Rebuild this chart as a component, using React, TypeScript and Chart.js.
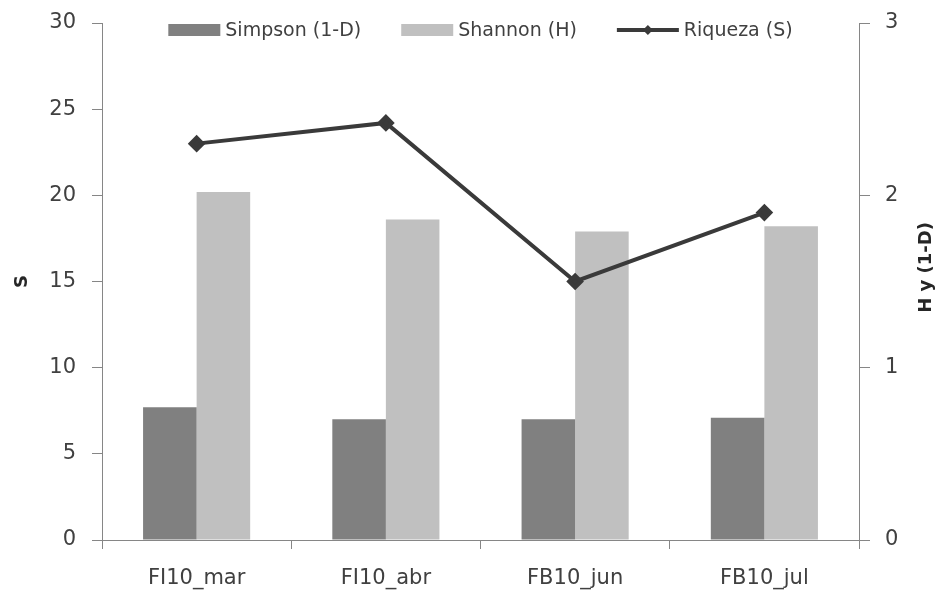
import React, { useEffect, useRef } from "react";
import { Chart, registerables } from "chart.js";

Chart.register(...registerables);

// Sampling periods
const categories: string[] = ["FI10_mar", "FI10_abr", "FB10_jun", "FB10_jul"];

// Diversity indices (right axis)
const simpson: number[] = [0.77, 0.7, 0.7, 0.71];
const shannon: number[] = [2.02, 1.86, 1.79, 1.82];

// Species richness (left axis)
const riqueza: number[] = [23, 24.2, 15, 19];

const seriesNames: string[] = ["Simpson (1-D)", "Shannon (H)", "Riqueza (S)"];
const leftTitle = "S";
const rightTitle = "H y (1-D)";

const FONT = "'DejaVu Sans', Verdana, sans-serif";
const TEXT = "#404040";
const AXIS = "#868686";
const DARK_BAR = "#808080";
const LIGHT_BAR = "#c0c0c0";
const LINE = "#3a3a3a";

// Draws the top legend (over the plot area) and the two rotated axis titles.
const decorations = {
  id: "decorations",
  afterDraw(chart: Chart) {
    const { ctx, chartArea } = chart;
    ctx.save();

    // Legend
    ctx.font = `19px ${FONT}`;
    ctx.textBaseline = "middle";
    const keyW = [52, 52, 62];
    const gapKey = 5;
    const gapItem = 40;
    const widths = seriesNames.map((n, i) => keyW[i] + gapKey + ctx.measureText(n).width);
    const total = widths.reduce((a, b) => a + b, 0) + gapItem * (seriesNames.length - 1);
    let x = (chartArea.left + chartArea.right) / 2 - total / 2;
    const y = 30;
    seriesNames.forEach((name, i) => {
      if (i === 0 || i === 1) {
        ctx.fillStyle = i === 0 ? DARK_BAR : LIGHT_BAR;
        ctx.fillRect(x, y - 6, keyW[i], 12);
      } else {
        ctx.strokeStyle = LINE;
        ctx.lineWidth = 4;
        ctx.beginPath();
        ctx.moveTo(x, y);
        ctx.lineTo(x + keyW[i], y);
        ctx.stroke();
        const cx = x + keyW[i] / 2;
        ctx.fillStyle = LINE;
        ctx.beginPath();
        ctx.moveTo(cx, y - 5);
        ctx.lineTo(cx + 5, y);
        ctx.lineTo(cx, y + 5);
        ctx.lineTo(cx - 5, y);
        ctx.closePath();
        ctx.fill();
      }
      ctx.fillStyle = TEXT;
      ctx.textAlign = "left";
      ctx.fillText(name, x + keyW[i] + gapKey, y + 1);
      x += widths[i] + gapItem;
    });

    // Axis titles, both reading bottom-to-top
    ctx.font = `bold 18px ${FONT}`;
    ctx.fillStyle = "#262626";
    ctx.textAlign = "center";
    ctx.textBaseline = "middle";
    const midY = (chartArea.top + chartArea.bottom) / 2;

    ctx.save();
    ctx.translate(22, midY);
    ctx.rotate(-Math.PI / 2);
    ctx.fillText(leftTitle, 0, 0);
    ctx.restore();

    ctx.save();
    ctx.translate(926, midY - 14);
    ctx.rotate(-Math.PI / 2);
    ctx.fillText(rightTitle, 0, 0);
    ctx.restore();

    ctx.restore();
  },
};

// Fixes the box of a vertical axis so the plot area is set by the layout padding alone.
const fixVertical = (width: number) => (s: any) => {
  s.width = width;
  s.paddingTop = 0;
  s.paddingBottom = 0;
};

export default function App() {
  const canvasRef = useRef<HTMLCanvasElement | null>(null);

  useEffect(() => {
    document.body.style.margin = "0";
    document.body.style.background = "#ffffff";
    const canvas = canvasRef.current;
    if (!canvas) return;

    const tickFont = { family: FONT, size: 21 };

    const chart = new Chart(canvas, {
      type: "bar",
      data: {
        labels: categories,
        datasets: [
          {
            type: "line",
            label: seriesNames[2],
            data: riqueza,
            yAxisID: "y",
            borderColor: LINE,
            backgroundColor: LINE,
            borderWidth: 4,
            tension: 0,
            pointStyle: "rectRot",
            pointRadius: 6,
            pointBackgroundColor: LINE,
            pointBorderColor: LINE,
            order: 0,
          },
          {
            type: "bar",
            label: seriesNames[0],
            data: simpson,
            yAxisID: "y1",
            backgroundColor: DARK_BAR,
            categoryPercentage: 0.566,
            barPercentage: 1,
            order: 1,
          },
          {
            type: "bar",
            label: seriesNames[1],
            data: shannon,
            yAxisID: "y1",
            backgroundColor: LIGHT_BAR,
            categoryPercentage: 0.566,
            barPercentage: 1,
            order: 1,
          },
        ],
      },
      options: {
        responsive: false,
        animation: false,
        layout: { padding: { top: 23, left: 0, right: 0, bottom: 0 } },
        plugins: {
          legend: { display: false },
          tooltip: { enabled: false },
        },
        scales: {
          x: {
            grid: {
              display: true,
              drawOnChartArea: false,
              drawTicks: true,
              tickLength: 9,
              color: AXIS,
              offset: true,
            },
            border: { display: true, color: AXIS, width: 1 },
            ticks: { font: tickFont, color: TEXT, padding: 17, maxRotation: 0 },
            afterFit: (s: any) => {
              s.height = 54;
              s.paddingLeft = 0;
              s.paddingRight = 0;
            },
          },
          y: {
            position: "left",
            min: 0,
            max: 30,
            ticks: { stepSize: 5, font: tickFont, color: TEXT, padding: 16 },
            grid: {
              display: true,
              drawOnChartArea: false,
              drawTicks: true,
              tickLength: 10,
              color: AXIS,
            },
            border: { display: true, color: AXIS, width: 1 },
            afterFit: fixVertical(102),
          },
          y1: {
            position: "right",
            min: 0,
            max: 3,
            ticks: { stepSize: 1, font: tickFont, color: TEXT, padding: 15 },
            grid: {
              display: true,
              drawOnChartArea: false,
              drawTicks: true,
              tickLength: 11,
              color: AXIS,
            },
            border: { display: true, color: AXIS, width: 1 },
            afterFit: fixVertical(81),
          },
        },
      },
      plugins: [decorations],
    });

    return () => chart.destroy();
  }, []);

  return (
    <div style={{ width: 940, height: 594, background: "#ffffff" }}>
      <canvas ref={canvasRef} width={940} height={594} style={{ display: "block" }} />
    </div>
  );
}
